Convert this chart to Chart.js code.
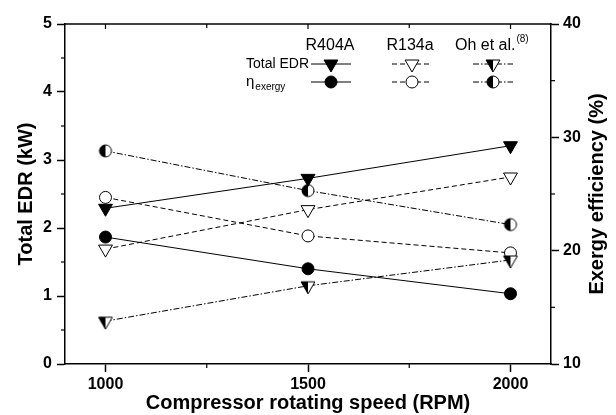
<!DOCTYPE html>
<html><head><meta charset="utf-8">
<script src="https://cdn.jsdelivr.net/npm/chart.js@4.4.1/dist/chart.umd.min.js"></script>
<style>html,body{margin:0;padding:0;background:#fff}#wrap{width:616px;height:415px}</style>
</head><body><div id="wrap"><canvas id="c" width="616" height="415"></canvas></div>
<script>
// ---- data ----
const rpm = [1000, 1500, 2000];
const edrR404A = [2.29, 2.73, 3.21];
const edrR134a = [1.69, 2.27, 2.75];
const edrOh    = [0.63, 1.15, 1.53];
const exR404A  = [21.2, 18.4, 16.2];
const exR134a  = [24.7, 21.3, 19.8];
const exOh     = [28.8, 25.3, 22.3];
const xTicks = [1000, 1500, 2000];
const xMinor = [1250, 1750];
const yLeftTicks = [0, 1, 2, 3, 4, 5];
const yLeftMinor = [0.5, 1.5, 2.5, 3.5, 4.5];
const yRightTicks = [10, 20, 30, 40];
const yRightMinor = [15, 25, 35];
const seriesNames = ['R404A', 'R134a', 'Oh et al.'];

const FONT = '"Liberation Sans", Arial, sans-serif';
Chart.defaults.font.family = FONT;
Chart.defaults.color = '#000';

const DASH = [5, 3];
const DASHDOT = [6, 2, 1.5, 2];

function halfTri(r) {
  const s = 22, c = document.createElement('canvas');
  c.width = c.height = s;
  const g = c.getContext('2d'), cx = s / 2, cy = s / 2, h = r * Math.sin(Math.PI / 3);
  const p = [[cx - h, cy - r / 2], [cx + h, cy - r / 2], [cx, cy + r]];
  g.beginPath(); g.moveTo(...p[0]); g.lineTo(...p[1]); g.lineTo(...p[2]); g.closePath();
  g.fillStyle = '#fff'; g.fill();
  g.beginPath(); g.moveTo(...p[0]); g.lineTo(cx, cy - r / 2); g.lineTo(cx, cy + r); g.closePath();
  g.fillStyle = '#000'; g.fill();
  g.beginPath(); g.moveTo(...p[0]); g.lineTo(...p[1]); g.lineTo(...p[2]); g.closePath();
  g.lineWidth = 1; g.strokeStyle = '#000'; g.stroke();
  return c;
}
function halfCirc(r) {
  const s = 18, c = document.createElement('canvas');
  c.width = c.height = s;
  const g = c.getContext('2d'), cx = s / 2, cy = s / 2;
  g.beginPath(); g.arc(cx, cy, r, 0, Math.PI * 2); g.fillStyle = '#fff'; g.fill();
  g.beginPath(); g.arc(cx, cy, r, Math.PI / 2, Math.PI * 1.5); g.closePath(); g.fillStyle = '#000'; g.fill();
  g.beginPath(); g.arc(cx, cy, r, 0, Math.PI * 2); g.lineWidth = 1; g.strokeStyle = '#000'; g.stroke();
  return c;
}
const HT = halfTri(8), HC = halfCirc(6);

function pts(ys) { return rpm.map((x, i) => ({ x, y: ys[i] })); }
function ds(label, ys, axis, dash, style, fill, radius, rot) {
  return {
    label, data: pts(ys), yAxisID: axis,
    borderColor: '#000', borderWidth: 1, borderDash: dash,
    pointStyle: style, pointRadius: radius, pointRotation: rot || 0,
    pointBackgroundColor: fill, pointBorderColor: '#000', pointBorderWidth: 1,
    fill: false, tension: 0
  };
}

const datasets = [
  ds('R404A EDR', edrR404A, 'yL', [], 'triangle', '#000', 8, 180),
  ds('R134a EDR', edrR134a, 'yL', DASH, 'triangle', '#fff', 8, 180),
  ds('Oh EDR', edrOh, 'yL', DASHDOT, HT, '#fff', 8, 0),
  ds('R404A ex', exR404A, 'yR', [], 'circle', '#000', 6, 0),
  ds('R134a ex', exR134a, 'yR', DASH, 'circle', '#fff', 6, 0),
  ds('Oh ex', exOh, 'yR', DASHDOT, HC, '#fff', 6, 0)
];

const tickFont = { family: FONT, size: 16, weight: 'bold' };
const titleFont = { family: FONT, size: 20, weight: 'bold' };
const gridOpt = { drawOnChartArea: false, drawTicks: true, tickLength: 8, tickWidth: 1.5, tickColor: '#000' };
const borderOpt = { display: true, color: '#000', width: 1.5 };
const plain = v => String(v);

function line(ctx, x1, y1, x2, y2) { ctx.beginPath(); ctx.moveTo(x1, y1); ctx.lineTo(x2, y2); ctx.stroke(); }

const extras = {
  id: 'extras',
  afterDraw(chart) {
    const { ctx, chartArea: a, scales: { x, yL, yR } } = chart;
    ctx.save();
    ctx.strokeStyle = '#000';
    ctx.lineWidth = 1.5;
    line(ctx, a.left - 0.75, a.top, a.right + 0.75, a.top);
    ctx.lineWidth = 1.2;
    xMinor.forEach(v => { const p = x.getPixelForValue(v); line(ctx, p, a.bottom, p, a.bottom + 4); });
    yLeftMinor.forEach(v => { const p = yL.getPixelForValue(v); line(ctx, a.left, p, a.left - 4, p); });
    yRightMinor.forEach(v => { const p = yR.getPixelForValue(v); line(ctx, a.right, p, a.right + 4, p); });
    xTicks.forEach(v => { const p = x.getPixelForValue(v); line(ctx, p, a.top, p, a.top + 5); });
    xMinor.forEach(v => { const p = x.getPixelForValue(v); line(ctx, p, a.top, p, a.top + 4); });
    // right title
    ctx.save();
    ctx.translate(597, (a.top + a.bottom) / 2);
    ctx.rotate(-Math.PI / 2);
    ctx.font = 'bold 20px ' + FONT;
    ctx.fillStyle = '#000'; ctx.textAlign = 'center'; ctx.textBaseline = 'middle';
    ctx.fillText('Exergy efficiency (%)', 0, 0);
    ctx.restore();

    // legend
    ctx.fillStyle = '#000';
    ctx.textBaseline = 'middle';
    const cols = [331, 412, 493];
    const rowT = 64, rowC = 82;
    ctx.font = '16px ' + FONT;
    ctx.textAlign = 'center';
    ctx.fillText(seriesNames[0], cols[0] - 1, 46);
    ctx.fillText(seriesNames[1], cols[1] - 2, 46);
    ctx.textAlign = 'left';
    ctx.fillText(seriesNames[2], 455, 46);
    const ow = ctx.measureText(seriesNames[2]).width;
    ctx.font = '10px ' + FONT;
    ctx.fillText('(8)', 455 + ow + 1, 39);
    ctx.font = '14px ' + FONT;
    ctx.textAlign = 'left';
    ctx.fillText('Total EDR', 246, rowT);
    ctx.font = '15px ' + FONT;
    ctx.fillText('\u03B7', 246, rowC);
    const ew = ctx.measureText('\u03B7').width;
    ctx.font = '10px ' + FONT;
    ctx.fillText('exergy', 246 + ew + 1, rowC + 5);

    const dashes = [[], DASH, DASHDOT];
    ctx.lineWidth = 1;
    cols.forEach((cx, i) => {
      ctx.setLineDash(dashes[i]);
      line(ctx, cx - 20, rowT, cx + 20, rowT);
      line(ctx, cx - 20, rowC, cx + 20, rowC);
    });
    ctx.setLineDash([]);
    function tri(cx, cy, r, fill) {
      const h = r * Math.sin(Math.PI / 3);
      ctx.beginPath(); ctx.moveTo(cx - h, cy - r / 2); ctx.lineTo(cx + h, cy - r / 2); ctx.lineTo(cx, cy + r); ctx.closePath();
      ctx.fillStyle = fill; ctx.fill(); ctx.strokeStyle = '#000'; ctx.lineWidth = 1; ctx.stroke();
    }
    function circ(cx, cy, r, fill) {
      ctx.beginPath(); ctx.arc(cx, cy, r, 0, Math.PI * 2);
      ctx.fillStyle = fill; ctx.fill(); ctx.strokeStyle = '#000'; ctx.lineWidth = 1; ctx.stroke();
    }
    tri(cols[0], rowT, 8, '#000');
    tri(cols[1], rowT, 8, '#fff');
    ctx.drawImage(HT, cols[2] - HT.width / 2, rowT - HT.height / 2);
    circ(cols[0], rowC, 6, '#000');
    circ(cols[1], rowC, 6, '#fff');
    ctx.drawImage(HC, cols[2] - HC.width / 2, rowC - HC.height / 2);
    ctx.restore();
  }
};

new Chart(document.getElementById('c'), {
  type: 'line',
  data: { datasets },
  plugins: [extras],
  options: {
    responsive: false, animation: false, devicePixelRatio: 1,
    layout: { padding: { top: 24, left: 0, right: 0, bottom: 0 } },
    plugins: { legend: { display: false }, tooltip: { enabled: false } },
    scales: {
      x: {
        type: 'linear', position: 'bottom', min: 900, max: 2100,
        afterBuildTicks: s => { s.ticks = xTicks.map(v => ({ value: v })); },
        grid: gridOpt, border: borderOpt,
        ticks: { font: tickFont, color: '#000', padding: 3, maxRotation: 0, callback: plain },
        title: { display: true, text: 'Compressor rotating speed (RPM)', font: titleFont, color: '#000', padding: { top: 0, bottom: 0 } },
        afterFit: s => { s.height = 51; }
      },
      yL: {
        type: 'linear', position: 'left', min: 0, max: 5,
        afterBuildTicks: s => { s.ticks = yLeftTicks.map(v => ({ value: v })); },
        grid: gridOpt, border: borderOpt,
        ticks: { font: tickFont, color: '#000', padding: 5, callback: plain },
        title: { display: true, text: 'Total EDR (kW)', font: titleFont, color: '#000', padding: { top: 14, bottom: 0 } },
        afterFit: s => { s.width = 65; }
      },
      yR: {
        type: 'linear', position: 'right', min: 10, max: 40,
        afterBuildTicks: s => { s.ticks = yRightTicks.map(v => ({ value: v })); },
        grid: gridOpt, border: borderOpt,
        ticks: { font: tickFont, color: '#000', padding: 4, callback: plain },
        title: { display: false },
        afterFit: s => { s.width = 65; }
      }
    }
  }
});
</script></body></html>
